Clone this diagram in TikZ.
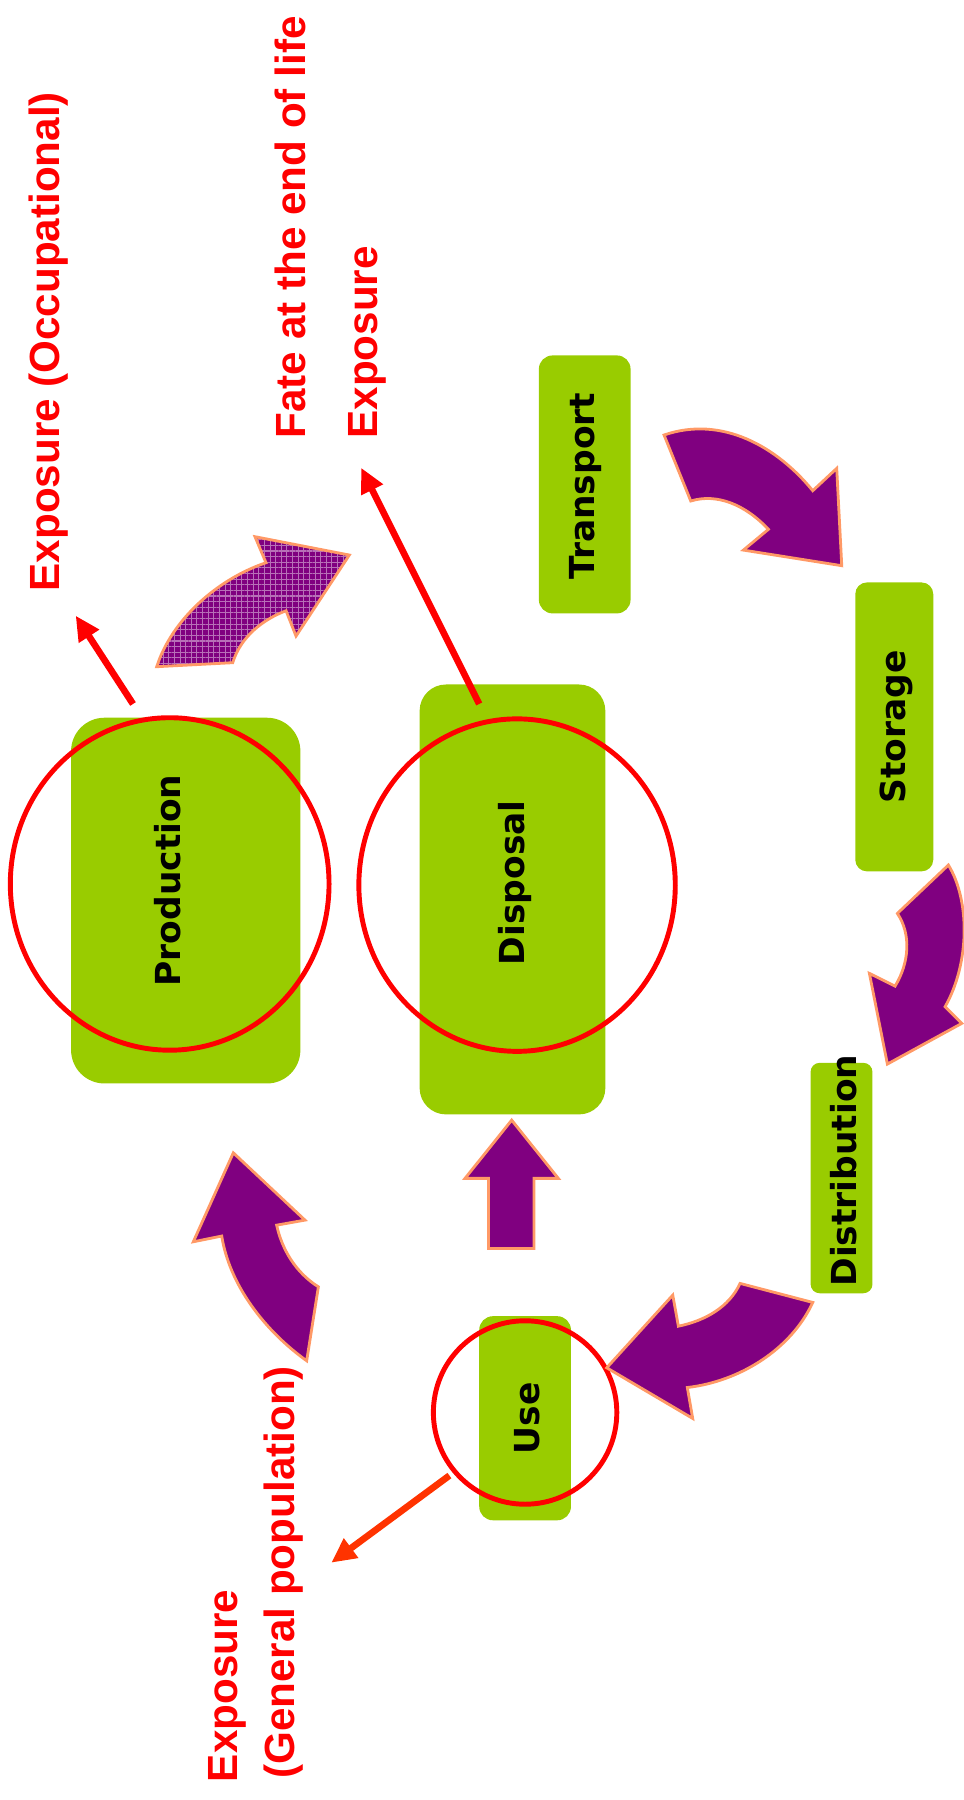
\documentclass[tikz,border=0pt]{standalone}
\usepackage{fontspec}
\setmainfont{Liberation Sans}
\newfontfamily\boxfont{DejaVu Sans}
\usetikzlibrary{arrows.meta,patterns.meta,fit,shapes.geometric}
\definecolor{lgreen}{HTML}{99CC00}
\definecolor{purp}{HTML}{800080}
\definecolor{edgeor}{HTML}{FF9966}
\definecolor{orred}{HTML}{FF3300}
\definecolor{hatch}{HTML}{B870B8}
\begin{document}
\begin{tikzpicture}[x=0.011464cm,y=-0.011464cm,
  box/.style={fill=lgreen, inner sep=0pt},
  boxlabel/.style={rotate=90, font=\boxfont\bfseries\fontsize{9.8}{11}\selectfont, text=black, inner sep=0pt},
  redlabel/.style={rotate=90, font=\bfseries\fontsize{12}{14}\selectfont, text=red, inner sep=0pt},
  ring/.style={draw=red, line width=1.4pt, ellipse, inner sep=0pt},
  redarrow/.style={draw=red, line width=1.9pt, -{Triangle[length=7pt,width=6.5pt]}},
  bigarrow/.style={fill=purp, draw=edgeor, line width=0.8pt, line join=miter}]

\useasboundingbox (0,0) rectangle (840,1570);

% green boxes
\node[box, rounded corners=3.9pt, fit={(470,310) (550,535)}] (transport) {};
\node[box, rounded corners=3.3pt, fit={(746,508) (814,760)}] (storage) {};
\node[box, rounded corners=9.5pt, fit={(62,626) (262,945)}] (production) {};
\node[box, rounded corners=7.5pt, fit={(366,597) (528,972)}] (disposal) {};
\node[box, rounded corners=2.6pt, fit={(707,927) (761,1128)}] (distribution) {};
\node[box, rounded corners=3.9pt, fit={(418,1148) (498,1326)}] (use) {};

% box labels
\node[boxlabel] (transportlbl) at (511,424) {Transport};
\node[boxlabel] (storagelbl) at (782,634) {Storage};
\node[boxlabel] (productionlbl) at (146,768) {Production};
\node[boxlabel] (disposallbl) at (449,770) {Disposal};
\node[boxlabel] (distributionlbl) at (736,1021) {Distribution};
\node[boxlabel] (uselbl) at (460,1237) {Use};

% red rings
\node[ring, minimum width=278*0.011464cm, minimum height=290*0.011464cm] (prodring) at (148,771) {};
\node[ring, minimum width=276*0.011464cm, minimum height=290*0.011464cm] (dispring) at (451,772) {};
\node[ring, minimum width=160*0.011464cm, minimum height=160*0.011464cm] (usering) at (458,1232) {};

% red labels
\node[redlabel] (expocc) at (42,298) {Exposure (Occupational)};
\node[redlabel, anchor=west] (fate) at (253,383) {Fate at the end of life};
\node[redlabel, anchor=west] (expfate) at (320,383) {Exposure};
\node[redlabel, anchor=west] (expgen1) at (198,1555) {Exposure};
\node[redlabel, anchor=west] (expgen2) at (247,1552) {(General population)};

% red arrows
\coordinate (a1s) at (116,614); \coordinate (a1e) at (66,537);
\coordinate (a2s) at (418,614); \coordinate (a2e) at (315,408);
\coordinate (a3s) at (392,1287); \coordinate (a3e) at (289,1363);
\draw[redarrow] (a1s) -- (a1e);
\draw[redarrow] (a2s) -- (a2e);
\draw[redarrow, draw=orred] (a3s) -- (a3e);

% purple arrows
% Transport -> Storage
\path[bigarrow] (579.2,379.4) .. controls (630,362) and (678,390) .. (708.9,428)
  -- (729.8,408.5) -- (734.2,493.4) -- (648.4,479.8) -- (670.2,461.7)
  .. controls (650,440) and (625,430) .. (602.5,437) -- cycle;
% Storage -> Distribution
\path[bigarrow] (827.2,754.5) .. controls (846,785) and (846,840) .. (824.3,878.1)
  -- (838.9,892.6) -- (774,928.1) -- (758.3,849) -- (780.7,860.1)
  .. controls (793,840) and (795,815) .. (782.7,796.7) -- cycle;
% Distribution -> Use
\path[bigarrow] (708.9,1136) .. controls (690,1177) and (645,1205) .. (599.5,1210.2)
  -- (604.2,1237.2) -- (529.2,1193) -- (586.8,1129.6) -- (591.7,1156.7)
  .. controls (615,1152) and (636,1140) .. (645.5,1119.4) -- cycle;
% Use -> Production
\path[bigarrow] (267.5,1186.9) .. controls (230,1160) and (200,1120) .. (193.4,1078.1)
  -- (168.6,1083.1) -- (203.5,1005.5) -- (266,1064.2) -- (241.3,1068.6)
  .. controls (246,1090) and (258,1110) .. (277.7,1122.4) -- cycle;
% Use -> Disposal (straight)
\path[bigarrow] (446.3,977) -- (487,1027.8) -- (465.8,1027.8) -- (465.8,1088.9)
  -- (426,1088.9) -- (426,1027.8) -- (405.6,1027.8) -- cycle;
% hatched arrow from Production
\path[fill=purp,
  postaction={pattern={Lines[angle=0,distance=1.6pt,line width=0.3pt]}, pattern color=hatch},
  postaction={pattern={Lines[angle=90,distance=1.6pt,line width=0.3pt]}, pattern color=hatch}]
  (136.7,581.5) .. controls (150,540) and (190,505) .. (232,490.8)
  -- (222.4,468.1) -- (304.7,484.1) -- (258.2,554.8) -- (249.5,532.7)
  .. controls (230,540) and (210,555) .. (203,578) -- cycle;
\draw[edgeor, line width=0.8pt, line join=miter]
  (136.7,581.5) .. controls (150,540) and (190,505) .. (232,490.8)
  -- (222.4,468.1) -- (304.7,484.1) -- (258.2,554.8) -- (249.5,532.7)
  .. controls (230,540) and (210,555) .. (203,578) -- cycle;
\end{tikzpicture}
\end{document}
